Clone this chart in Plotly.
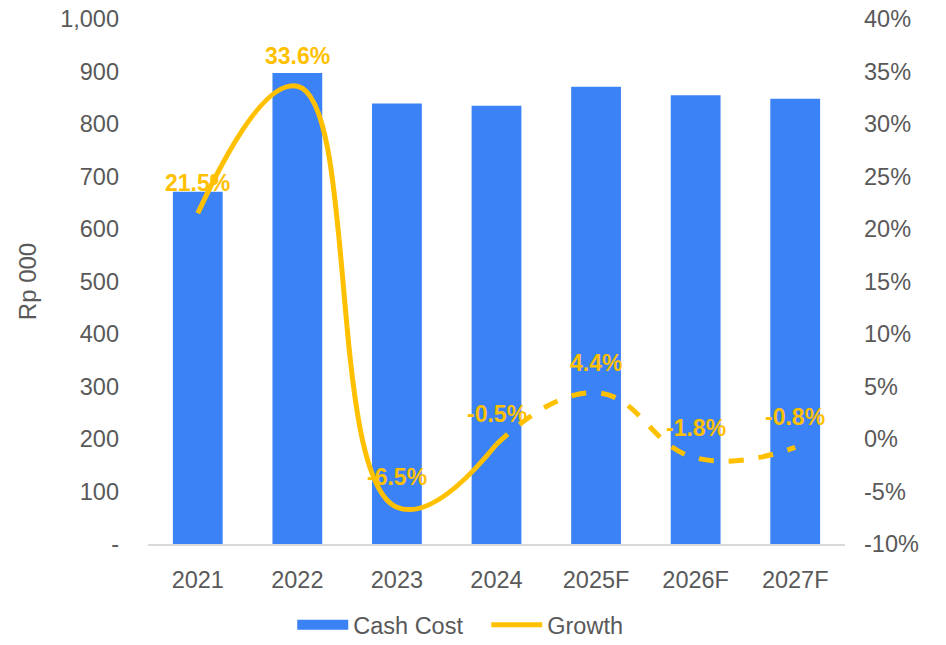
import plotly.graph_objects as go

categories = ["2021", "2022", "2023", "2024", "2025F", "2026F", "2027F"]
cash_cost = [671, 897, 839, 835, 871, 855, 848]
growth = [21.5, 33.6, -6.5, -0.5, 4.4, -1.8, -0.8]
growth_labels = ["21.5%", "33.6%", "-6.5%", "-0.5%", "4.4%", "-1.8%", "-0.8%"]
left_ticks = [0, 100, 200, 300, 400, 500, 600, 700, 800, 900, 1000]
left_ticktext = ["-", "100", "200", "300", "400", "500", "600", "700", "800", "900", "1,000"]
right_ticks = [-10, -5, 0, 5, 10, 15, 20, 25, 30, 35, 40]
right_ticktext = ["-10%", "-5%", "0%", "5%", "10%", "15%", "20%", "25%", "30%", "35%", "40%"]

n_actual = 4  # 2021-2024 actual (solid), then forecast (dashed)

BAR = "#3B82F6"
GOLD = "#FFC000"
GREY = "#595959"
FONT = "Liberation Sans, Arial, sans-serif"
FS = 23.5

fig = go.Figure()
fig.add_trace(go.Bar(
    x=categories, y=cash_cost, name="Cash Cost", marker_color=BAR,
    marker_line_width=0, yaxis="y", showlegend=False))
# legend entry for the bars drawn as a wide block (legend-only, no data)
fig.add_trace(go.Scatter(
    x=[None], y=[None], name="Cash Cost", mode="lines",
    line=dict(color=BAR, width=13), yaxis="y", showlegend=True))
fig.add_trace(go.Scatter(
    x=categories[:n_actual], y=growth[:n_actual], name="Growth", mode="lines",
    line=dict(color=GOLD, width=5, shape="spline", smoothing=1.3), yaxis="y2"))
fig.add_trace(go.Scatter(
    x=categories[n_actual - 1:], y=growth[n_actual - 1:], name="Growth", mode="lines",
    line=dict(color=GOLD, width=5, shape="spline", smoothing=1.3, dash="dash"),
    yaxis="y2", showlegend=False))

# annotations placed by category index (numeric-looking category names would be read as indices)
for i, (g, t) in enumerate(zip(growth, growth_labels)):
    fig.add_annotation(x=i, y=g, xref="x", yref="y2", text=t, showarrow=False,
                       yshift=30, font=dict(family=FONT, size=23, color=GOLD, weight="bold"))

fig.update_layout(
    width=946, height=645,
    margin=dict(l=148, r=101, t=19, b=101, autoexpand=False),
    paper_bgcolor="white", plot_bgcolor="white",
    font=dict(family=FONT, size=FS, color=GREY),
    bargap=0.5,
    showlegend=True,
    legend=dict(orientation="h", x=0.514, xanchor="center", xref="container",
                y=0.031, yanchor="middle", yref="container",
                font=dict(size=FS, color=GREY), traceorder="normal",
                itemwidth=51, entrywidth=128, entrywidthmode="pixels"),
    xaxis=dict(type="category", range=[-0.5, len(categories) - 0.5],
               showline=True, linecolor="#D9D9D9", linewidth=2, ticks="",
               tickfont=dict(size=FS, color=GREY), ticklabelstandoff=14),
    yaxis=dict(range=[0, 1000], tickvals=left_ticks, ticktext=left_ticktext,
               showgrid=False, zeroline=False, showline=False, ticklabeloverflow="allow",
               tickfont=dict(size=FS, color=GREY), ticklabelstandoff=28,
               title=dict(text="Rp 000", font=dict(size=24, color=GREY), standoff=16)),
    yaxis2=dict(range=[-10, 40], tickvals=right_ticks, ticktext=right_ticktext,
                overlaying="y", side="right", showgrid=False, zeroline=False,
                showline=False, ticklabeloverflow="allow",
                tickfont=dict(size=FS, color=GREY), ticklabelstandoff=18),
)

# remove the browser's default body margin so the figure fills the window exactly
fig.write_html("out.html", config={"displayModeBar": False},
               post_script="document.body.style.margin='0';")
